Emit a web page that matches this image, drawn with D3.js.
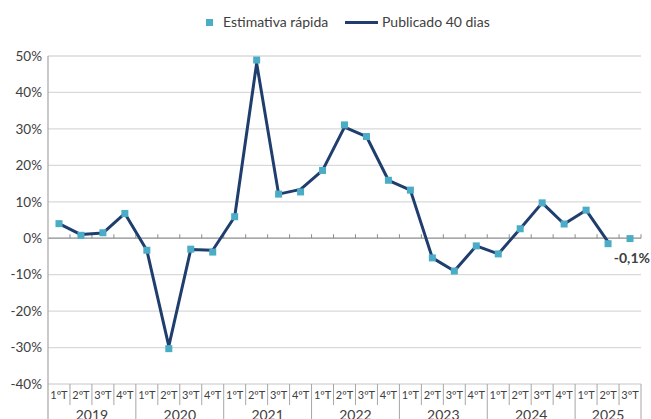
<!DOCTYPE html>
<html>
<head>
<meta charset="utf-8">
<script src="https://cdn.jsdelivr.net/npm/d3@7"></script>
<style>
  html, body { margin: 0; padding: 0; background: #fff; }
  svg { display: block; font-family: Lato, "Open Sans", sans-serif; }
</style>
</head>
<body>
<svg id="chart" width="651" height="419"></svg>
<script>
// Quarterly growth, 2019 Q1 – 2025 Q3
const years = ["2019", "2020", "2021", "2022", "2023", "2024", "2025"];
const quarterLabels = ["1ºT", "2ºT", "3ºT", "4ºT"];
const quartersPerYear = [4, 4, 4, 4, 4, 4, 3];

// Flash estimate (markers), %
const estimativaRapida = [
  4.0, 0.8, 1.5, 6.8,
  -3.3, -30.3, -3.0, -3.8,
  5.9, 48.9, 12.1, 12.7,
  18.6, 31.1, 27.9, 15.9,
  13.2, -5.4, -9.0, -2.1,
  -4.3, 2.6, 9.7, 3.9,
  7.7, -1.5, -0.1
];

// Figure published after 40 days (line), %; null where not yet published
const publicado40 = [
  4.0, 1.0, 1.4, 6.8,
  -3.3, -29.6, -3.1, -3.3,
  5.9, 48.0, 12.1, 13.4,
  18.6, 30.5, 27.9, 15.9,
  13.2, -5.4, -9.0, -2.1,
  -4.3, 2.6, 9.7, 3.9,
  7.7, -1.0, null
];

const yTicks = [50, 40, 30, 20, 10, 0, -10, -20, -30, -40];
const lastLabel = "-0,1%";
const seriesNames = ["Estimativa rápida", "Publicado 40 dias"];

// Build category keys
const categories = [];
years.forEach((yr, yi) => {
  for (let q = 0; q < quartersPerYear[yi]; q++) {
    categories.push({ key: yr + "Q" + (q + 1), year: yr, q: quarterLabels[q] });
  }
});

const svg = d3.select("#chart");
const plotLeft = 48, plotRight = 641, plotTop = 56, plotBottom = 384;

const x = d3.scaleBand().domain(categories.map(d => d.key)).range([plotLeft, plotRight]).padding(0);
const y = d3.scaleLinear().domain([-40, 50]).range([plotBottom, plotTop]);
const cx = k => x(k) + x.bandwidth() / 2;

const fmtPct = d => d + "%";

// Gridlines
svg.append("g")
  .selectAll("line")
  .data(yTicks.filter(t => t !== 0))
  .join("line")
  .attr("x1", plotLeft).attr("x2", plotRight)
  .attr("y1", d => y(d)).attr("y2", d => y(d))
  .attr("stroke", "#d9d9d9").attr("stroke-width", 1.3);

// Y axis labels
svg.append("g")
  .selectAll("text")
  .data(yTicks)
  .join("text")
  .attr("x", 42)
  .attr("y", d => y(d))
  .attr("dy", "0.35em")
  .attr("text-anchor", "end")
  .attr("font-size", 13.5)
  .attr("fill", "#404040")
  .text(fmtPct);

// Zero axis with small ticks at category boundaries
svg.append("line")
  .attr("x1", plotLeft).attr("x2", plotRight)
  .attr("y1", y(0)).attr("y2", y(0))
  .attr("stroke", "#8c8c8c").attr("stroke-width", 1.2);
svg.append("g")
  .selectAll("line")
  .data(categories.slice(1).map(d => x(d.key)).concat([plotRight]))
  .join("line")
  .attr("x1", d => d).attr("x2", d => d)
  .attr("y1", y(0) - 4).attr("y2", y(0))
  .attr("stroke", "#8c8c8c").attr("stroke-width", 1);

// Vertical axis line, continued through the category label area
svg.append("line")
  .attr("x1", plotLeft).attr("x2", plotLeft)
  .attr("y1", plotTop).attr("y2", 419)
  .attr("stroke", "#a6a6a6").attr("stroke-width", 1.2);

// Category axis: quarter separators and year separators
const yearStarts = [];
categories.forEach((d, i) => { if (i === 0 || d.year !== categories[i - 1].year) yearStarts.push(i); });
svg.append("g")
  .selectAll("line")
  .data(categories.map((d, i) => i).filter(i => i > 0))
  .join("line")
  .attr("x1", i => x(categories[i].key)).attr("x2", i => x(categories[i].key))
  .attr("y1", plotBottom)
  .attr("y2", i => yearStarts.includes(i) ? 419 : 405)
  .attr("stroke", "#a6a6a6").attr("stroke-width", 1);
svg.append("line")
  .attr("x1", plotRight).attr("x2", plotRight)
  .attr("y1", plotBottom).attr("y2", 419)
  .attr("stroke", "#a6a6a6").attr("stroke-width", 1);

svg.append("g")
  .selectAll("text")
  .data(categories)
  .join("text")
  .attr("x", d => cx(d.key))
  .attr("y", 395)
  .attr("dy", "0.35em")
  .attr("text-anchor", "middle")
  .attr("font-size", 11)
  .attr("fill", "#404040")
  .text(d => d.q);

svg.append("g")
  .selectAll("text")
  .data(yearStarts.map((s, i) => ({ year: years[i], s, n: quartersPerYear[i] })))
  .join("text")
  .attr("x", d => (x(categories[d.s].key) + x(categories[d.s + d.n - 1].key) + x.bandwidth()) / 2)
  .attr("y", 420)
  .attr("text-anchor", "middle")
  .attr("font-size", 14)
  .attr("fill", "#404040")
  .text(d => d.year);

// Published line
const lineData = categories.map((d, i) => ({ key: d.key, v: publicado40[i] }));
svg.append("path")
  .datum(lineData)
  .attr("fill", "none")
  .attr("stroke", "#1f3e6e")
  .attr("stroke-width", 3)
  .attr("stroke-linejoin", "round")
  .attr("d", d3.line().defined(d => d.v !== null).x(d => cx(d.key)).y(d => y(d.v)));

// Flash estimate markers
const ms = 7;
svg.append("g")
  .selectAll("rect")
  .data(categories.map((d, i) => ({ key: d.key, v: estimativaRapida[i] })))
  .join("rect")
  .attr("x", d => cx(d.key) - ms / 2)
  .attr("y", d => y(d.v) - ms / 2)
  .attr("width", ms).attr("height", ms)
  .attr("fill", "#4bacc6");

// Label for the latest estimate
svg.append("text")
  .attr("x", 650)
  .attr("y", y(estimativaRapida[estimativaRapida.length - 1]) + 20)
  .attr("dy", "0.35em")
  .attr("text-anchor", "end")
  .attr("font-size", 14)
  .attr("font-weight", "bold")
  .attr("fill", "#404040")
  .text(lastLabel);

// Legend
const lg = svg.append("g");
lg.append("rect").attr("x", 206).attr("y", 19).attr("width", 7).attr("height", 7).attr("fill", "#4bacc6");
lg.append("text").attr("x", 223).attr("y", 22.5).attr("dy", "0.35em").attr("font-size", 14)
  .attr("fill", "#404040").text(seriesNames[0]);
lg.append("line").attr("x1", 345).attr("x2", 378).attr("y1", 22.5).attr("y2", 22.5).attr("stroke", "#1f3e6e").attr("stroke-width", 3);
lg.append("text").attr("x", 382).attr("y", 22.5).attr("dy", "0.35em").attr("font-size", 14)
  .attr("fill", "#404040").text(seriesNames[1]);
</script>
</body>
</html>
